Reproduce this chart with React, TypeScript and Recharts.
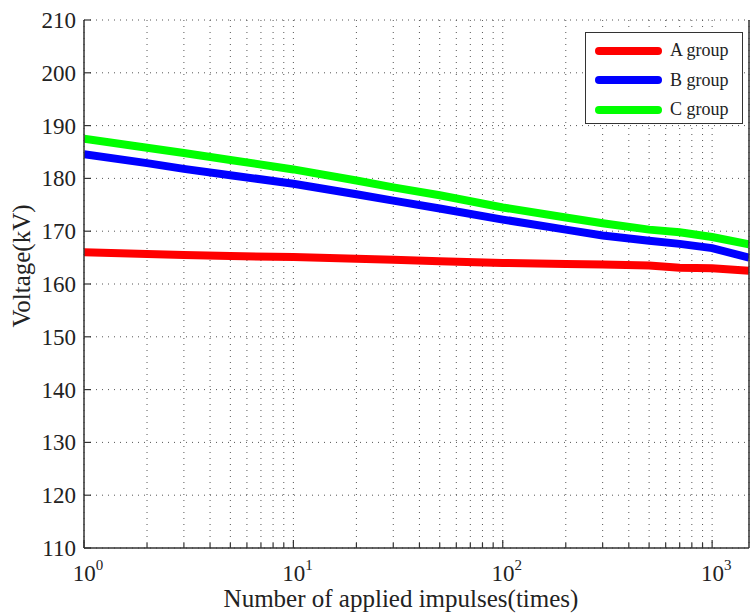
import React from "react";
import { LineChart, Line, XAxis, YAxis, CartesianGrid } from "recharts";

const impulses = [1, 2, 3, 5, 10, 20, 30, 50, 100, 200, 300, 500, 700, 1000, 1500];
const groupA = [166.0, 165.7, 165.5, 165.3, 165.1, 164.8, 164.6, 164.3, 164.0, 163.8, 163.7, 163.5, 163.1, 163.0, 162.5];
const groupB = [184.6, 182.9, 181.8, 180.6, 179.0, 177.0, 175.8, 174.3, 172.2, 170.3, 169.2, 168.2, 167.6, 166.8, 165.0];
const groupC = [187.5, 185.8, 184.8, 183.5, 181.7, 179.6, 178.3, 176.8, 174.5, 172.6, 171.5, 170.3, 169.8, 168.9, 167.5];

const xTicks = [
  1, 2, 3, 4, 5, 6, 7, 8, 9,
  10, 20, 30, 40, 50, 60, 70, 80, 90,
  100, 200, 300, 400, 500, 600, 700, 800, 900,
  1000,
];
const yTicks = [110, 120, 130, 140, 150, 160, 170, 180, 190, 200, 210];

const series = [
  { key: "a", name: "A group", color: "#ff0000" },
  { key: "b", name: "B group", color: "#0000ff" },
  { key: "c", name: "C group", color: "#00ff00" },
];

const data = impulses.map((n, i) => ({ n, a: groupA[i], b: groupB[i], c: groupC[i] }));

const FONT = "'Liberation Serif', 'Times New Roman', serif";
const AXIS = "#333";
const txt = { fontFamily: FONT };

function isMajor(v: number) {
  const e = Math.log10(v);
  return Math.abs(e - Math.round(e)) < 1e-9;
}

const BottomTick = (props: any) => {
  const { x, y, payload } = props;
  const major = isMajor(payload.value);
  const exp = Math.round(Math.log10(payload.value));
  return (
    <g>
      <line x1={x} x2={x} y1={y} y2={y - (major ? 8 : 5)} stroke={AXIS} strokeWidth={1.2} />
      {major && (
        <text x={x + 4} y={y + 33} textAnchor="middle" style={txt} fontSize={23} fill="#222">
          10<tspan dy={-11} fontSize={15}>{exp}</tspan>
        </text>
      )}
    </g>
  );
};

const TopTick = (props: any) => {
  const { x, y, payload } = props;
  const major = isMajor(payload.value);
  return <line x1={x} x2={x} y1={y} y2={y + (major ? 8 : 5)} stroke={AXIS} strokeWidth={1.2} />;
};

const LeftTick = (props: any) => {
  const { x, y, payload } = props;
  return (
    <g>
      <line x1={x} x2={x + 7} y1={y} y2={y} stroke={AXIS} strokeWidth={1.2} />
      <text x={x - 8} y={y + 8} textAnchor="end" style={txt} fontSize={23} fill="#222">
        {payload.value}
      </text>
    </g>
  );
};

const RightTick = (props: any) => {
  const { x, y } = props;
  return <line x1={x} x2={x - 7} y1={y} y2={y} stroke={AXIS} strokeWidth={1.2} />;
};

const LegendBox = () => (
  <div
    style={{
      position: "absolute",
      left: 585,
      top: 32,
      border: `1.5px solid ${AXIS}`,
      background: "#fff",
      width: 158,
      height: 92,
      boxSizing: "border-box",
      paddingTop: 3,
      fontFamily: FONT,
      fontSize: 18,
      color: "#222",
    }}
  >
    {series.map((s) => (
      <div key={s.key} style={{ display: "flex", alignItems: "center", height: 29.5, paddingLeft: 9 }}>
        <div style={{ width: 67, height: 8, borderRadius: 4, background: s.color, marginRight: 8 }} />
        <span>{s.name}</span>
      </div>
    ))}
  </div>
);

export default function App() {
  return (
    <div style={{ position: "absolute", left: 0, top: 0, width: 750, height: 614, background: "#fff" }}>
      <LineChart width={750} height={614} data={data} margin={{ top: 20, right: 0, bottom: 0, left: 0 }}>
        <CartesianGrid stroke="#555" strokeDasharray="1 5" />
        <XAxis
          dataKey="n"
          type="number"
          scale="log"
          domain={[1, 1500]}
          allowDataOverflow
          ticks={xTicks}
          interval={0}
          height={66}
          tickSize={0}
          tickMargin={0}
          tick={<BottomTick />}
          axisLine={{ stroke: AXIS, strokeWidth: 1.5 }}
          label={{
            content: () => (
              <text x={401} y={607} textAnchor="middle" style={txt} fontSize={25} fill="#222">
                Number of applied impulses(times)
              </text>
            ),
          }}
        />
        <XAxis
          xAxisId="top"
          orientation="top"
          dataKey="n"
          type="number"
          scale="log"
          domain={[1, 1500]}
          allowDataOverflow
          ticks={xTicks}
          interval={0}
          height={0}
          tickSize={0}
          tickMargin={0}
          tick={<TopTick />}
          axisLine={{ stroke: AXIS, strokeWidth: 1.5 }}
        />
        <YAxis
          type="number"
          domain={[110, 210]}
          ticks={yTicks}
          interval={0}
          width={84}
          tickSize={0}
          tickMargin={0}
          tick={<LeftTick />}
          axisLine={{ stroke: AXIS, strokeWidth: 1.5 }}
          label={{
            content: () => (
              <text
                x={30}
                y={266}
                textAnchor="middle"
                style={txt}
                fontSize={25}
                fill="#222"
                transform="rotate(-90 30 266)"
              >
                Voltage(kV)
              </text>
            ),
          }}
        />
        <YAxis
          yAxisId="right"
          orientation="right"
          type="number"
          domain={[110, 210]}
          ticks={yTicks}
          interval={0}
          width={1}
          tickSize={0}
          tickMargin={0}
          tick={<RightTick />}
          axisLine={{ stroke: AXIS, strokeWidth: 1.5 }}
        />
        {series.map((s) => (
          <Line
            key={s.key}
            dataKey={s.key}
            name={s.name}
            stroke={s.color}
            strokeWidth={8}
            dot={false}
            type="linear"
            isAnimationActive={false}
          />
        ))}
      </LineChart>
      <LegendBox />
    </div>
  );
}
